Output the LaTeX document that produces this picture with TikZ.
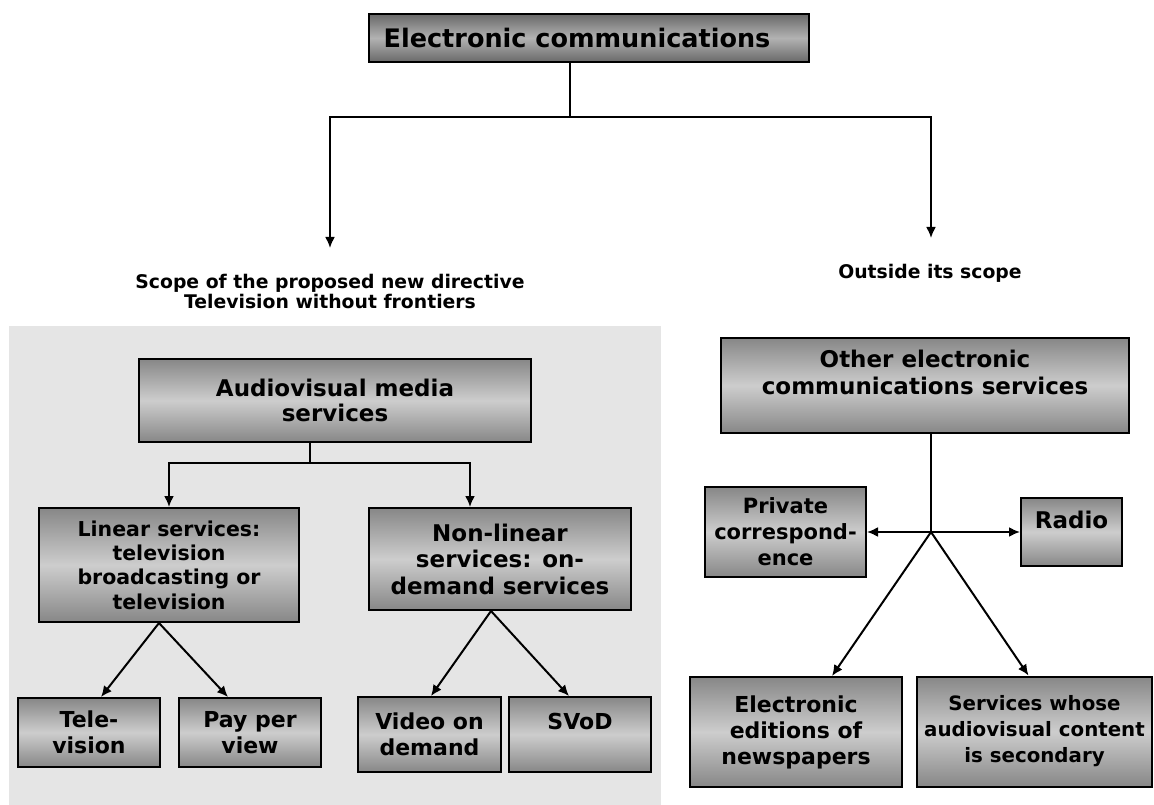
\documentclass[tikz,border=0pt]{standalone}
\usepackage{fontspec}
\setmainfont{DejaVu Sans}
\usetikzlibrary{arrows.meta}
\definecolor{bgfill}{RGB}{229,229,229}
\definecolor{bdark}{RGB}{135,135,135}
\definecolor{blight}{RGB}{205,205,205}
\definecolor{tdark}{RGB}{105,105,105}
\definecolor{tlight}{RGB}{178,178,178}
\tikzset{
  box/.style={draw=black, line width=2pt, rectangle, inner sep=0pt, align=center,
    top color=bdark, bottom color=bdark, middle color=blight,
    font=\bfseries\fontsize{22}{26}\selectfont},
  titlebox/.style={box, top color=tdark, bottom color=tdark, middle color=tlight,
    font=\bfseries\fontsize{25.5}{30}\selectfont},
  lbl/.style={align=center, inner sep=0pt, font=\bfseries\fontsize{18.8}{19.5}\selectfont},
  conn/.style={line width=2pt, black},
  arr/.style={conn, -{Latex[length=11pt,width=10pt]}}
}
\begin{document}
\begin{tikzpicture}[x=1pt,y=-1pt]
\useasboundingbox (0,0) rectangle (1154,805);
\fill[bgfill] (9,326) rectangle (661,805);

% boxes
\node[titlebox, minimum width=440pt, minimum height=48pt] (title) at (589,38) {\hspace*{-24pt}Electronic communications};
\node[box, font=\bfseries\fontsize{23}{25.5}\selectfont, minimum width=392pt, minimum height=83pt] (av) at (335,400.5) {Audiovisual media\\services};
\node[box, font=\bfseries\fontsize{20.5}{24.3}\selectfont, minimum width=260pt, minimum height=114pt] (lin) at (169,565) {Linear services:\\television\\broadcasting or\\television};
\node[box, font=\bfseries\fontsize{23}{26.5}\selectfont, minimum width=262pt, minimum height=102pt] (nonlin) at (500,559) {Non-linear\\services: on-\\demand services};
\node[box, minimum width=142pt, minimum height=69pt] (tele) at (89,732.5) {Tele-\\vision};
\node[box, minimum width=142pt, minimum height=69pt] (ppv) at (250,732.5) {Pay per\\view};
\node[box, minimum width=143pt, minimum height=75pt] (vod) at (429.5,734.5) {Video on\\demand};
\node[box, minimum width=142pt, minimum height=75pt] (svod) at (580,734.5) {SVoD\\\mbox{}};
\node[box, font=\bfseries\fontsize{23}{27}\selectfont, minimum width=408pt, minimum height=95pt] (other) at (925,385.5) {Other electronic\\communications services\\\mbox{}};
\node[box, font=\bfseries\fontsize{21}{26}\selectfont, minimum width=161pt, minimum height=90pt] (priv) at (785.5,532) {Private\\correspond-\\ence};
\node[box, font=\bfseries\fontsize{23}{24}\selectfont, minimum width=101pt, minimum height=68pt] (radio) at (1071.5,532) {Radio\\\mbox{}};
\node[box, minimum width=212pt, minimum height=110pt] (eee) at (796,732) {Electronic\\editions of\\newspapers};
\node[box, font=\bfseries\fontsize{19.8}{26}\selectfont, minimum width=235pt, minimum height=110pt] (svc) at (1034.5,731.5) {Services whose\\audiovisual content\\is secondary};

% labels
\node[lbl] (scope) at (330,291.5) {Scope of the proposed new directive\\Television without frontiers};
\node[lbl] (outside) at (930,273) {Outside its scope};

% top connectors
\coordinate (j1) at (570,117);
\coordinate (scopeT) at (330,248);
\coordinate (outT) at (931,238);
\draw[conn] (title.south -| j1) -- (j1);
\draw[arr] (j1) -| (scopeT);
\draw[arr] (j1) -| (outT);

% audiovisual connectors
\coordinate (j2) at (310,463);
\draw[conn] (av.south -| j2) -- (j2);
\draw[arr] (j2) -| (lin.north);
\draw[arr] (j2) -| ([xshift=-30pt]nonlin.north);

\draw[arr] ([xshift=-10pt]lin.south) -- ([xshift=12pt]tele.north);
\draw[arr] ([xshift=-10pt]lin.south) -- ([xshift=-22pt]ppv.north);
\draw[arr] ([xshift=-9pt]nonlin.south) -- ([xshift=1.5pt]vod.north);
\draw[arr] ([xshift=-9pt]nonlin.south) -- ([xshift=-11pt]svod.north);

% outside connectors
\coordinate (j3) at (931,532);
\draw[conn] (other.south -| j3) -- (j3);
\draw[arr] (j3) -- (priv.east);
\draw[arr] (j3) -- (radio.west);
\draw[arr] (j3) -- ([xshift=36pt]eee.north);
\draw[arr] (j3) -- ([xshift=-6pt]svc.north);
\end{tikzpicture}
\end{document}
